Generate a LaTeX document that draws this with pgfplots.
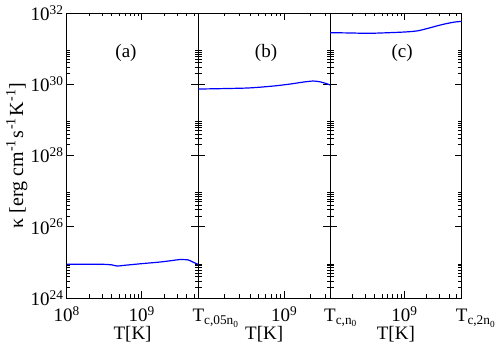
\documentclass[border=0pt]{standalone}
\usepackage{fontspec}
\setmainfont{Liberation Serif}
\newfontfamily\tms{Liberation Serif}
\usepackage{pgfplots}
\pgfplotsset{compat=1.18}
\newcommand{\fnt}{\tms\fontsize{19}{22}\selectfont}
\newcommand{\Tc}[1]{T\rlap{\textsubscript{c,#1}}}
\newcommand{\mysup}[1]{\kern0.5pt\textsuperscript{#1}\kern1.5pt}
\pgfplotsset{
 every axis/.append style={
  scale only axis, width=131.7pt, height=285pt,
  anchor=south west,
  ymin=1e24, ymax=1e32, xmin=1e8,
  ytick={1e24,1e26,1e28,1e30,1e32},
  minor ytick={2e24,3e24,4e24,5e24,6e24,7e24,8e24,9e24,2e26,3e26,4e26,5e26,6e26,7e26,8e26,9e26,2e28,3e28,4e28,5e28,6e28,7e28,8e28,9e28,2e30,3e30,4e30,5e30,6e30,7e30,8e30,9e30},
  tick align=inside,
  major tick length=7pt, minor tick length=3.5pt,
  axis line style={line width=0.9pt, black},
  tick style={black, line width=0.8pt},
  tick label style={font=\fnt},
  xticklabel style={anchor=base, yshift=-24pt},
  xlabel={T[K]},
  xlabel style={font=\fnt, at={(axis description cs:0.5,-0.1474)}, anchor=base},
 },
}
\begin{document}
\begin{tikzpicture}
\path[use as bounding box] (0pt,0pt) rectangle (498pt,345pt);
% panel a
\begin{loglogaxis}[at={(66.7pt,47pt)}, xmax=5.7e9,
  xtick={1e8,1e9,5.7e9},
  xticklabels={10\textsuperscript{8},10\textsuperscript{9},\Tc{05n\textsubscript{0}}},
  minor xtick={2e8,3e8,4e8,5e8,6e8,7e8,8e8,9e8,2e9,3e9,4e9,5e9},
  yticklabels={10\textsuperscript{24},10\textsuperscript{26},10\textsuperscript{28},10\textsuperscript{30},10\textsuperscript{32}},
  yticklabel style={anchor=east, inner xsep=0pt, xshift=-3pt},
  ylabel={κ [erg cm\mysup{-1}s\mysup{-1}K\mysup{-1}\kern-1.5pt]},
  ylabel style={font={\tms\fontsize{20}{23}\selectfont}, at={(axis description cs:-0.3318,0.5)}, anchor=base},
]
\addplot[blue, line width=1.2pt, smooth, tension=0.4] coordinates {
(1.0e8,8.86e24) (2.0e8,8.86e24) (3.0e8,8.84e24) (4.0e8,8.5e24) (4.7e8,7.9e24)
(6.0e8,8.3e24) (7.6e8,8.7e24) (1.0e9,9.2e24) (1.74e9,1.02e25) (2.5e9,1.12e25)
(3.24e9,1.2e25) (4.17e9,1.17e25) (4.8e9,1.02e25) (5.5e9,9.0e24) (5.7e9,8.7e24)};
\node[font=\fnt] at (axis description cs:0.45,0.8614) {(a)};
\end{loglogaxis}
% panel b
\begin{loglogaxis}[at={(198.3pt,47pt)}, xmax=3.4e9,
  xtick={1e8,1e9,3.4e9},
  xticklabels={,10\textsuperscript{9},\Tc{n\textsubscript{0}}},
  minor xtick={2e8,3e8,4e8,5e8,6e8,7e8,8e8,9e8,2e9,3e9},
  yticklabels={},
]
\addplot[blue, line width=1.2pt, smooth, tension=0.4] coordinates {
(1.0e8,7.33e29) (3.66e8,7.82e29) (7.45e8,8.9e29) (1.16e9,1.01e30) (1.66e9,1.15e30)
(2.17e9,1.23e30) (2.6e9,1.17e30) (3.11e9,1.035e30) (3.4e9,9.55e29)};
\node[font=\fnt] at (axis description cs:0.514,0.8614) {(b)};
\end{loglogaxis}
% panel c
\begin{loglogaxis}[at={(330pt,47pt)}, xmax=5.9e9,
  xtick={1e8,1e9,5.9e9},
  xticklabels={,10\textsuperscript{9},\Tc{2n\textsubscript{0}}},
  minor xtick={2e8,3e8,4e8,5e8,6e8,7e8,8e8,9e8,2e9,3e9,4e9,5e9},
  yticklabels={},
]
\addplot[blue, line width=1.2pt, smooth, tension=0.4] coordinates {
(1.0e8,2.8e31) (1.86e8,2.75e31) (3.5e8,2.69e31) (1.0e9,2.92e31) (1.51e9,3.16e31)
(2.09e9,3.72e31) (2.69e9,4.3e31) (3.47e9,4.9e31) (4.57e9,5.5e31) (5.9e9,5.83e31)};
\node[font=\fnt] at (axis description cs:0.547,0.8614) {(c)};
\end{loglogaxis}
\end{tikzpicture}
\end{document}
